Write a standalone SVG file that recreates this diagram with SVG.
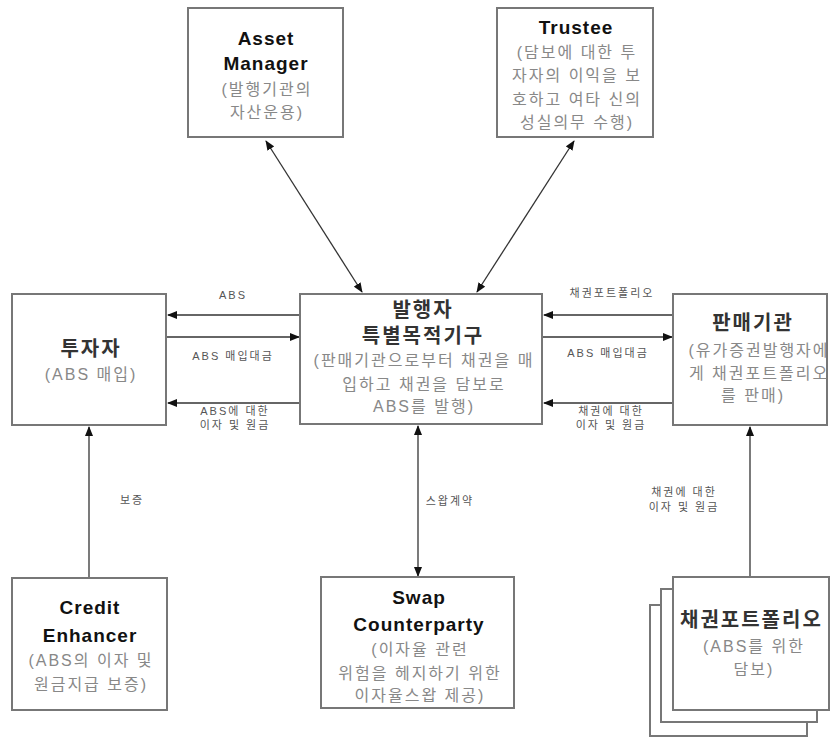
<svg xmlns="http://www.w3.org/2000/svg" width="832" height="738" viewBox="0 0 832 738">
<style>
.box{fill:#fff;stroke:#777;stroke-width:2}
.t{font-family:"Liberation Sans","Noto Sans CJK KR",sans-serif;text-anchor:middle}
.h{font-size:19px;font-weight:bold;fill:#111;letter-spacing:1px}
.k{font-size:20px;font-weight:bold;fill:#333;letter-spacing:2px}
.s{font-size:16px;fill:#888;letter-spacing:2px}
.l{font-size:11px;fill:#555;letter-spacing:2px}
.c{stroke:#333;stroke-width:1.3;fill:none}
</style>
<defs>
<marker id="ah" markerWidth="10" markerHeight="8" refX="9" refY="4" orient="auto-start-reverse" markerUnits="userSpaceOnUse">
<path d="M0,0 L10,4 L0,8 z" fill="#111"/>
</marker>
</defs>
<rect width="832" height="738" fill="#fff"/>
<g id="connectors">
<line class="c" x1="300" y1="315" x2="168" y2="315" marker-end="url(#ah)"/>
<line class="c" x1="166" y1="337" x2="299" y2="337" marker-end="url(#ah)"/>
<line class="c" x1="300" y1="403" x2="168" y2="403" marker-end="url(#ah)"/>
<line class="c" x1="673" y1="315" x2="544" y2="315" marker-end="url(#ah)"/>
<line class="c" x1="542" y1="337" x2="672" y2="337" marker-end="url(#ah)"/>
<line class="c" x1="673" y1="403" x2="544" y2="403" marker-end="url(#ah)"/>
<line class="c" x1="266" y1="141" x2="362" y2="292" marker-start="url(#ah)" marker-end="url(#ah)"/>
<line class="c" x1="574" y1="141" x2="477" y2="292" marker-start="url(#ah)" marker-end="url(#ah)"/>
<line class="c" x1="418" y1="426" x2="418" y2="576" marker-start="url(#ah)" marker-end="url(#ah)"/>
<line class="c" x1="89" y1="578" x2="89" y2="427" marker-end="url(#ah)"/>
<line class="c" x1="750" y1="577" x2="750" y2="427" marker-end="url(#ah)"/>
<text class="t l" x="233" y="299">ABS</text>
<text class="t l" x="233" y="360">ABS 매입대금</text>
<text class="t l" x="235" y="415">ABS에 대한</text>
<text class="t l" x="235" y="429">이자 및 원금</text>
<text class="t l" x="612" y="297">채권포트폴리오</text>
<text class="t l" x="608" y="357">ABS 매입대금</text>
<text class="t l" x="611" y="415">채권에 대한</text>
<text class="t l" x="611" y="429">이자 및 원금</text>
<text class="t l" x="132" y="504">보증</text>
<text class="t l" x="450" y="505">스왑계약</text>
<text class="t l" x="684" y="496">채권에 대한</text>
<text class="t l" x="684" y="511">이자 및 원금</text>
</g>
<g id="asset-manager">
<rect class="box" x="188" y="8" width="155" height="129"/>
<text class="t h" x="266" y="45">Asset</text>
<text class="t h" x="266" y="70">Manager</text>
<text class="t s" x="267" y="95">(발행기관의</text>
<text class="t s" x="267" y="118">자산운용)</text>
</g>
<g id="trustee">
<rect class="box" x="497" y="8" width="156" height="129"/>
<text class="t h" x="576" y="34">Trustee</text>
<text class="t s" x="577" y="58">(담보에 대한 투</text>
<text class="t s" x="577" y="81">자자의 이익을 보</text>
<text class="t s" x="577" y="105">호하고 여타 신의</text>
<text class="t s" x="577" y="128">성실의무 수행)</text>
</g>
<g id="investor">
<rect class="box" x="12" y="294" width="154" height="131"/>
<text class="t k" x="91" y="356">투자자</text>
<text class="t s" x="91" y="380">(ABS 매입)</text>
</g>
<g id="spv">
<rect class="box" x="300" y="294" width="242" height="130"/>
<text class="t k" x="423" y="317">발행자</text>
<text class="t k" x="423" y="343">특별목적기구</text>
<text class="t s" x="424" y="366">(판매기관으로부터 채권을 매</text>
<text class="t s" x="424" y="390">입하고 채권을 담보로</text>
<text class="t s" x="424" y="412">ABS를 발행)</text>
</g>
<g id="seller">
<rect class="box" x="673" y="294" width="154" height="131"/>
<text class="t k" x="753" y="330">판매기관</text>
<text class="t s" x="759" y="356">(유가증권발행자에</text>
<text class="t s" x="759" y="379">게 채권포트폴리오</text>
<text class="t s" x="753" y="401">를 판매)</text>
</g>
<g id="credit-enhancer">
<rect class="box" x="12" y="578" width="155" height="132"/>
<text class="t h" x="90" y="614">Credit</text>
<text class="t h" x="90" y="642">Enhancer</text>
<text class="t s" x="91" y="666">(ABS의 이자 및</text>
<text class="t s" x="91" y="690">원금지급 보증)</text>
</g>
<g id="swap">
<rect class="box" x="321" y="577" width="193" height="131"/>
<text class="t h" x="419" y="604">Swap</text>
<text class="t h" x="419" y="631">Counterparty</text>
<text class="t s" x="420" y="655">(이자율 관련</text>
<text class="t s" x="420" y="679">위험을 헤지하기 위한</text>
<text class="t s" x="420" y="701">이자율스왑 제공)</text>
</g>
<g id="bond-portfolio">
<rect class="box" x="650" y="605" width="157" height="131"/>
<rect class="box" x="661" y="589" width="156" height="133"/>
<rect class="box" x="673" y="577" width="156" height="133"/>
<text class="t k" x="680" y="627" style="text-anchor:start">채권포트폴리오</text>
<text class="t s" x="754" y="652">(ABS를 위한</text>
<text class="t s" x="754" y="675">담보)</text>
</g>
</svg>
